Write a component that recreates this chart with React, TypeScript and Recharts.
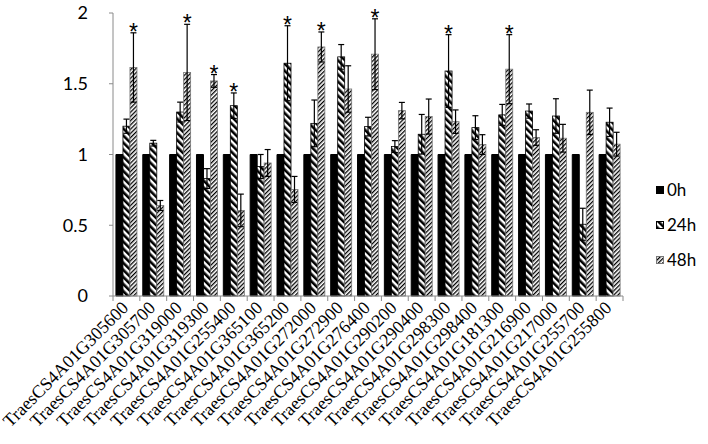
import { BarChart, Bar, XAxis, YAxis, ErrorBar } from "recharts"

const genes = [
  "TraesCS4A01G305600", "TraesCS4A01G305700", "TraesCS4A01G319000", "TraesCS4A01G319300",
  "TraesCS4A01G255400", "TraesCS4A01G365100", "TraesCS4A01G365200", "TraesCS4A01G272000",
  "TraesCS4A01G272900", "TraesCS4A01G276400", "TraesCS4A01G290200", "TraesCS4A01G290400",
  "TraesCS4A01G298300", "TraesCS4A01G298400", "TraesCS4A01G181300", "TraesCS4A01G216900",
  "TraesCS4A01G217000", "TraesCS4A01G255700", "TraesCS4A01G255800"
]

const h0 = [1, 1, 1, 1, 1, 1, 1, 1, 1, 1, 1, 1, 1, 1, 1, 1, 1, 1, 1]
const h24 = [1.2, 1.08, 1.3, 0.83, 1.345, 0.915, 1.645, 1.22, 1.69, 1.197, 1.056, 1.143, 1.59, 1.19, 1.28, 1.307, 1.272, 0.507, 1.228]
const err24 = [0.05, 0.02, 0.07, 0.07, 0.09, 0.085, 0.265, 0.165, 0.087, 0.066, 0.042, 0.14, 0.257, 0.084, 0.074, 0.05, 0.122, 0.113, 0.1]
const h48 = [1.615, 0.64, 1.58, 1.52, 0.605, 0.94, 0.753, 1.76, 1.463, 1.709, 1.31, 1.268, 1.232, 1.07, 1.603, 1.12, 1.115, 1.298, 1.073]
const err48 = [0.245, 0.035, 0.34, 0.045, 0.115, 0.095, 0.092, 0.106, 0.164, 0.25, 0.058, 0.124, 0.083, 0.07, 0.244, 0.055, 0.098, 0.157, 0.084]

// which bars carry a significance star
const star24 = [4, 6, 12]
const star48 = [0, 2, 3, 7, 9, 14]

const yTicks = [0, 0.5, 1, 1.5, 2]

const legendItems = [
  { name: "0h", fill: "#000", stroke: "#000" },
  { name: "24h", fill: "url(#p24)", stroke: "#000" },
  { name: "48h", fill: "url(#p48)", stroke: "#777" }
]

const data = genes.map((g, i) => ({
  name: g,
  h0: h0[i],
  h24: h24[i],
  e24: err24[i],
  s24: star24.includes(i),
  h48: h48[i],
  e48: err48[i],
  s48: star48.includes(i)
}))

const axisGray = "#8a8a8a"

function makeShape(errKey: string, starKey: string) {
  return (props: any) => {
    const { x, y, width, height, fill, stroke, payload, value } = props
    let star = null
    if (payload && payload[starKey] && value) {
      const perUnit = height / value
      const top = y - payload[errKey] * perUnit
      star = (
        <text x={x + width / 2} y={top + 7} textAnchor="middle" fontSize={23}
          fontFamily="Liberation Sans" fill="#000">*</text>
      )
    }
    return (
      <g>
        <rect x={x} y={y} width={width} height={height} fill={fill} stroke={stroke} strokeWidth={0.8} />
        {star}
      </g>
    )
  }
}

function GeneTick(props: any) {
  const { x, y, payload, index, visibleTicksCount } = props
  const half = payload.offset ?? 13.4
  const last = index === (visibleTicksCount ?? genes.length) - 1
  return (
    <g>
      <line x1={x - half} y1={y} x2={x - half} y2={y + 5} stroke={axisGray} />
      {last && <line x1={x + half} y1={y} x2={x + half} y2={y + 5} stroke={axisGray} />}
      <text transform={`translate(${x + 3},${y + 13}) rotate(-45)`} textAnchor="end"
        fontFamily="Liberation Serif" fontSize={18} fill="#000">
        {payload.value}
      </text>
    </g>
  )
}

function Swatch({ fill, stroke }: any) {
  return (
    <svg width={8} height={8} style={{ marginRight: 3 }}>
      <rect x={0.5} y={0.5} width={7} height={7} fill={fill} stroke={stroke} strokeWidth={1} />
    </svg>
  )
}

export default function App() {
  return (
    <div style={{ position: "absolute", left: 0, top: 0, width: 708, height: 444, background: "#fff" }}>

      <BarChart width={708} height={444} data={data}
        margin={{ top: 13, right: 85, left: 0, bottom: 0 }}
        barCategoryGap="11%" barGap={0}>

        <defs>
          <pattern id="p24" patternUnits="userSpaceOnUse" width="5" height="5" patternTransform="rotate(-45)">
            <rect width="5" height="5" fill="#fff" />
            <rect width="2.6" height="5" fill="#000" />
          </pattern>
          <pattern id="p48" patternUnits="userSpaceOnUse" width="3" height="3" patternTransform="rotate(45)">
            <rect width="3" height="3" fill="#fff" />
            <rect width="1.3" height="3" fill="#000" />
          </pattern>
        </defs>

        <XAxis dataKey="name" interval={0} height={148} tickSize={0} tickMargin={0}
          axisLine={{ stroke: axisGray }} tick={<GeneTick />} />

        <YAxis domain={[0, 2]} ticks={yTicks} width={113} tickSize={4} tickMargin={21}
          axisLine={{ stroke: axisGray }} tickLine={{ stroke: axisGray }}
          tick={{ fill: "#000", fontSize: 18, fontFamily: "Lato" }} />

        <Bar dataKey="h0" fill="#000" stroke="#000" isAnimationActive={false} />

        <Bar dataKey="h24" fill="url(#p24)" stroke="#000" isAnimationActive={false}
          shape={makeShape("e24", "s24")}>
          <ErrorBar dataKey="e24" width={3} stroke="#000" strokeWidth={1.2} />
        </Bar>

        <Bar dataKey="h48" fill="url(#p48)" stroke="#777" isAnimationActive={false}
          shape={makeShape("e48", "s48")}>
          <ErrorBar dataKey="e48" width={3} stroke="#000" strokeWidth={1.2} />
        </Bar>

      </BarChart>

      <div style={{ position: "absolute", left: 656, top: 172, fontFamily: "Lato", fontSize: 17, color: "#000" }}>
        {legendItems.map(item => (
          <div key={item.name} style={{ display: "flex", alignItems: "center", height: 35 }}>
            <Swatch fill={item.fill} stroke={item.stroke} />
            <span>{item.name}</span>
          </div>
        ))}
      </div>

    </div>
  )
}
